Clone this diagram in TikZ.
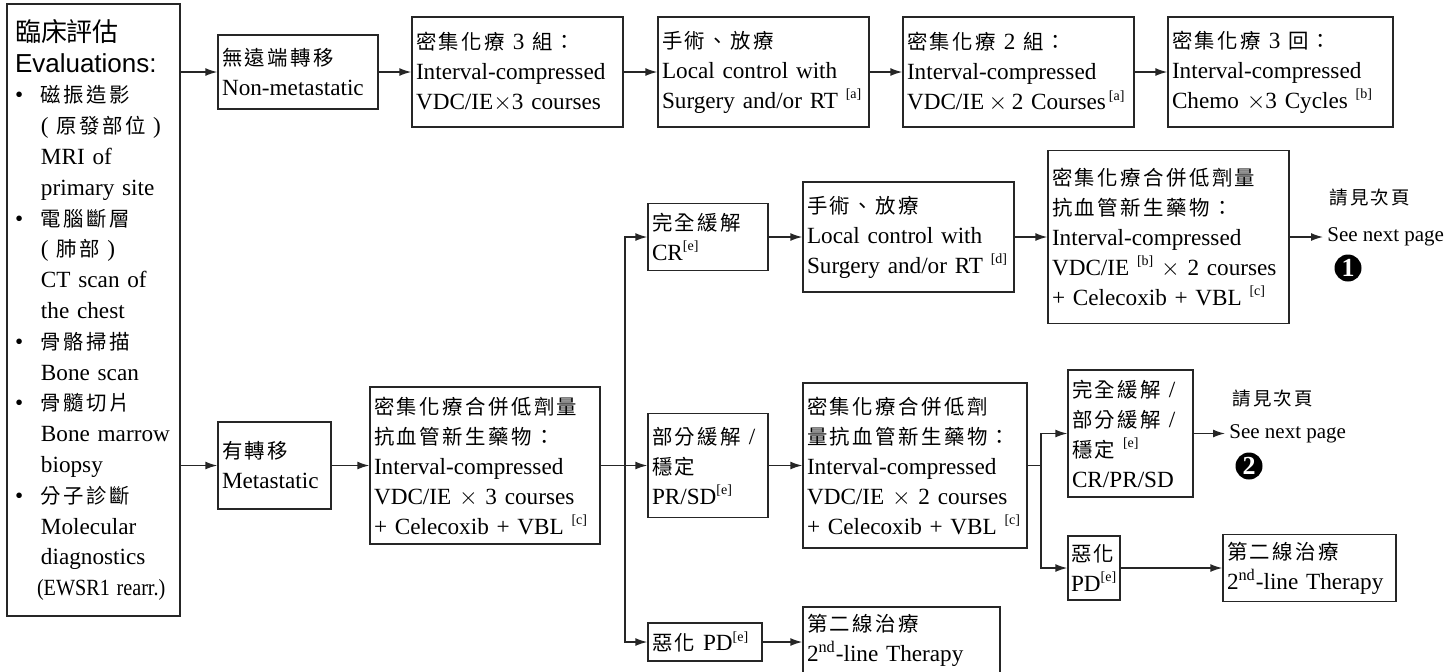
\documentclass[tikz,border=0pt]{standalone}
\usepackage{fontspec}
\setmainfont{Liberation Serif}
\setsansfont{Liberation Sans}
\newfontfamily\zh[Scale=0.88,LetterSpace=12]{Noto Sans CJK TC}
\newfontfamily\zhsans{Noto Sans CJK TC}
\usepackage{graphicx}
\newcommand\fnref[1]{\raisebox{0.9ex}{\fontsize{7}{7}\selectfont[#1]}}
\usetikzlibrary{arrows.meta}
\tikzset{>={Latex[length=6pt,width=4pt]}}
\tikzstyle{stage}=[draw=black!85,line width=0.7pt,rectangle,align=left,inner xsep=2pt,inner ysep=1pt,font=\fontsize{11.6}{15}\selectfont]
\tikzstyle{flow}=[->,line width=0.7pt,draw=black!85]
\tikzstyle{pagenote}=[anchor=west,inner xsep=2pt,inner ysep=0pt,font=\fontsize{10.5}{12}\selectfont]
\tikzstyle{pagenum}=[circle,fill=black,text=white,inner sep=0pt,minimum size=13.5pt,font=\bfseries\fontsize{13}{13}\selectfont]

\begin{document}
\begin{tikzpicture}[x=0.5pt,y=-0.5pt]
  \useasboundingbox (0,0) rectangle (1445,671);
  % evaluations
  \node[stage,inner xsep=4pt,text width=78.5pt,minimum height=306pt,font=\fontsize{11.6}{15.4}\selectfont] (eval) at (93.5,310) {%
    {\zhsans\fontsize{13}{15.4}\selectfont 臨床評估}\\
    {\sffamily\fontsize{13}{15.4}\selectfont Evaluations:}\\
    \makebox[13pt][l]{\textbullet}{\zh 磁振造影}\\
    \hspace*{13pt}( {\zh 原發部位} )\\
    \hspace*{13pt}MRI of\\
    \hspace*{13pt}primary site\\
    \makebox[13pt][l]{\textbullet}{\zh 電腦斷層}\\
    \hspace*{13pt}( {\zh 肺部} )\\
    \hspace*{13pt}CT scan of\\
    \hspace*{13pt}the chest\\
    \makebox[13pt][l]{\textbullet}{\zh 骨骼掃描}\\
    \hspace*{13pt}Bone scan\\
    \makebox[13pt][l]{\textbullet}{\zh 骨髓切片}\\
    \hspace*{13pt}Bone marrow\\
    \hspace*{13pt}biopsy\\
    \makebox[13pt][l]{\textbullet}{\zh 分子診斷}\\
    \hspace*{13pt}Molecular\\
    \hspace*{13pt}diagnostics\\
    \hspace*{11pt}\scalebox{0.87}[1]{(EWSR1 rearr.)}};

  % non-metastatic row
  \node[stage,text width=76pt,minimum height=37pt] (nonmet) at (298,72) {{\zh 無遠端轉移}\\Non-metastatic};
  \node[stage,text width=101.5pt,minimum height=55pt] (ic3) at (517.5,72) {{\zh 密集化療} 3 {\zh 組：}\\Interval-compressed\\VDC/IE$\times$3 courses};
  \node[stage,text width=101.5pt,minimum height=55pt] (local1) at (763.5,72) {{\zh 手術、放療}\\Local control with\\\mbox{Surgery and/or RT \fnref{a}}};
  \node[stage,text width=111.5pt,minimum height=55pt] (ic2) at (1018.5,72) {{\zh 密集化療} 2 {\zh 組：}\\Interval-compressed\\\mbox{VDC/IE\hspace{2.2pt}$\times$\hspace{2.2pt}2 Courses\hspace{1.5pt}\fnref{a}}};
  \node[stage,text width=108.5pt,minimum height=55pt] (chemo3) at (1280.5,72) {{\zh 密集化療} 3 {\zh 回：}\\Interval-compressed\\\mbox{Chemo $\times$3 Cycles \fnref{b}}};

  % metastatic row
  \node[stage,text width=52.5pt,minimum height=43.5pt] (met) at (274.5,465.5) {{\zh 有轉移}\\Metastatic};
  \node[stage,text width=111pt,minimum height=78.5pt] (metic3) at (485,465.5) {{\zh 密集化療合併低劑量}\\{\zh 抗血管新生藥物：}\\Interval-compressed\\VDC/IE $\times$ 3 courses\\\mbox{+ Celecoxib + VBL \fnref{c}}};
  \node[stage,text width=56pt,minimum height=33.5pt] (cr) at (708,237) {{\zh 完全緩解}\\CR\fnref{e}};
  \node[stage,text width=101.5pt,minimum height=55pt] (local2) at (908.5,237) {{\zh 手術、放療}\\Local control with\\\mbox{Surgery and/or RT \fnref{d}}};
  \node[stage,text width=116.5pt,minimum height=86.5pt] (metic2a) at (1168.5,237) {{\zh 密集化療合併低劑量}\\{\zh 抗血管新生藥物：}\\Interval-compressed\\\mbox{VDC/IE \fnref{b} $\times$ 2 courses}\\\mbox{+ Celecoxib + VBL \fnref{c}}};
  \node[stage,text width=56pt,minimum height=52pt] (prsd) at (708,465.5) {{\zh 部分緩解} /\\{\zh 穩定}\\PR/SD\fnref{e}};
  \node[stage,text width=53pt,minimum height=19pt] (pd1) at (705,642) {{\zh 惡化} PD\fnref{e}};
  \node[stage,text width=94.5pt,minimum height=33.5pt] (second1) at (901.5,640.5) {{\zh 第二線治療}\\2\textsuperscript{nd}-line Therapy};
  \node[stage,text width=108pt,minimum height=82.5pt] (metic2b) at (915,465.5) {{\zh 密集化療合併低劑}\\{\zh 量抗血管新生藥物：}\\Interval-compressed\\VDC/IE $\times$ 2 courses\\\mbox{+ Celecoxib + VBL \fnref{c}}};
  \node[stage,text width=58.5pt,minimum height=63.5pt] (crprsd) at (1130.5,433.5) {{\zh 完全緩解} /\\{\zh 部分緩解} /\\{\zh 穩定} \fnref{e}\\CR/PR/SD};
  \node[stage,inner xsep=1.5pt,text width=23pt,minimum height=32pt] (pd2) at (1094,568) {{\zh 惡化}\\PD\fnref{e}};
  \node[stage,text width=82.5pt,minimum height=33.5pt] (second2) at (1309.5,568) {{\zh 第二線治療}\\2\textsuperscript{nd}-line Therapy};

  % see next page
  \node[pagenote] (see1zh) at (1325,198) {\zh 請見次頁};
  \node[pagenote] (see1) at (1323,237) {See next page};
  \node[pagenum] (num1) at (1348,268) {1};
  \node[pagenote] (see2zh) at (1228,399) {\zh 請見次頁};
  \node[pagenote] (see2) at (1225,433.5) {See next page};
  \node[pagenum] (num2) at (1249,466) {2};

  % connectors
  \coordinate (split1) at (625,465.5);
  \coordinate (split2) at (1041,465.5);
  \draw[flow] (eval.east |- nonmet.west) -- (nonmet.west);
  \draw[flow] (eval.east |- met.west) -- (met.west);
  \draw[flow] (nonmet) -- (ic3);
  \draw[flow] (ic3) -- (local1);
  \draw[flow] (local1) -- (ic2);
  \draw[flow] (ic2) -- (chemo3);
  \draw[flow] (met) -- (metic3);
  \draw[line width=0.7pt,draw=black!85] (metic3.east) -- (split1);
  \draw[flow] (split1) |- (cr.west);
  \draw[flow] (split1) -- (prsd.west);
  \draw[flow] (split1) |- (pd1.west);
  \draw[flow] (cr) -- (local2);
  \draw[flow] (local2) -- (metic2a);
  \draw[flow] (metic2a.east) -- (see1.west);
  \draw[flow] (prsd) -- (metic2b);
  \draw[line width=0.7pt,draw=black!85] (metic2b.east) -- (split2);
  \draw[flow] (split2) |- (crprsd.west);
  \draw[flow] (split2) |- (pd2.west);
  \draw[flow] (crprsd.east) -- (see2.west);
  \draw[flow] (pd2) -- (second2);
  \draw[flow] (pd1.east) -- (pd1.east -| second1.west);
\end{tikzpicture}
\end{document}
